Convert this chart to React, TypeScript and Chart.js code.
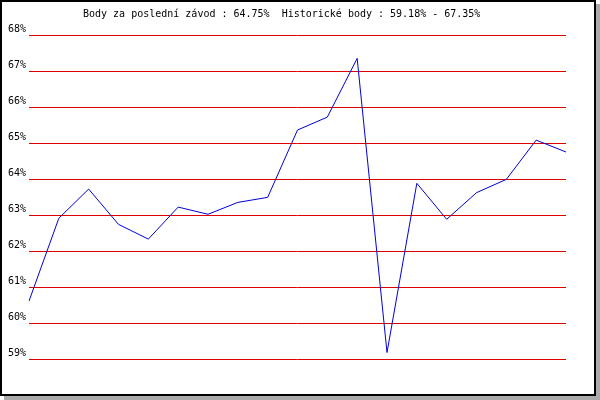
import React, { useEffect, useRef } from "react";
import { Chart, registerables } from "chart.js";

Chart.register(...registerables);

const titleText = "Body za poslední závod : 64.75%  Historické body : 59.18% - 67.35%";
const races = ["1","2","3","4","5","6","7","8","9","10","11","12","13","14","15","16","17","18","19"];
const points = [60.61, 62.91, 63.72, 62.74, 62.33, 63.22, 63.02, 63.35, 63.49, 65.36, 65.72, 67.35, 59.18, 63.88, 62.88, 63.62, 63.99, 65.08, 64.75];
const yMin = 59;
const yMax = 68;

const FONT = "'DejaVu Sans Mono', monospace";

const titlePlugin = {
  id: "topTitle",
  afterDraw(chart: any) {
    const ctx = chart.ctx;
    ctx.save();
    ctx.font = `10px ${FONT}`;
    ctx.fillStyle = "#000";
    ctx.textAlign = "left";
    ctx.textBaseline = "alphabetic";
    ctx.fillText(titleText, 83, 17);
    ctx.restore();
  },
};

export default function App() {
  const ref = useRef<HTMLCanvasElement>(null);
  useEffect(() => {
    if (!ref.current) return;
    const chart = new Chart(ref.current, {
      type: "line",
      data: {
        labels: races,
        datasets: [
          {
            data: points,
            borderColor: "#0000d8",
            borderWidth: 1,
            pointRadius: 0,
            tension: 0,
            fill: false,
          },
        ],
      },
      options: {
        animation: false,
        responsive: false,
        devicePixelRatio: 1,
        layout: { padding: { left: 0, top: 35, right: 34, bottom: 41 } },
        plugins: { legend: { display: false }, tooltip: { enabled: false }, title: { display: false } },
        scales: {
          x: { display: false, offset: false },
          y: {
            min: yMin,
            max: yMax,
            afterFit: (s: any) => { s.width = 29; },
            border: { display: false },
            grid: { color: "#dd0000", lineWidth: 1, drawTicks: false },
            ticks: {
              stepSize: 1,
              padding: 3,
              labelOffset: -6,
              color: "#000",
              font: { family: FONT, size: 10 },
              callback: (v: any) => `${v}%`,
            },
          },
        },
      },
      plugins: [titlePlugin],
    });
    return () => chart.destroy();
  }, []);
  return (
    <div style={{ position: "fixed", left: 0, top: 0, width: 600, height: 400, background: "#fff" }}>
      <div
        style={{
          position: "absolute",
          left: 0,
          top: 0,
          width: 596,
          height: 396,
          boxSizing: "border-box",
          border: "2px solid #000",
          boxShadow: "4px 4px 0 #aaaaaa",
          background: "#fff",
        }}
      />
      <canvas ref={ref} width={600} height={400} style={{ position: "absolute", left: 0, top: 0 }} />
    </div>
  );
}
